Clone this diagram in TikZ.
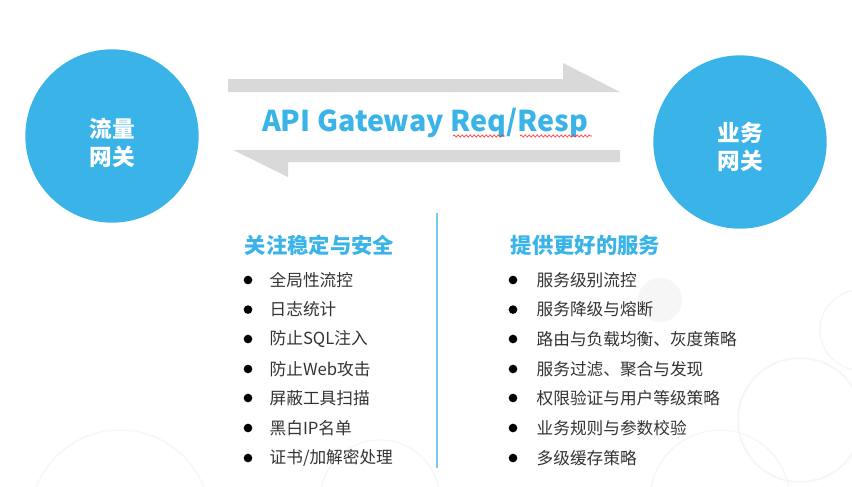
\documentclass[tikz,border=0pt]{standalone}
\usepackage{fontspec}
\setmainfont{Noto Sans CJK SC}
\usetikzlibrary{decorations.pathmorphing}
\definecolor{gwblue}{HTML}{3AB4E8}
\definecolor{arrowgray}{HTML}{D9D9D9}
\definecolor{itemtext}{HTML}{333333}
\definecolor{ruleblue}{HTML}{7CC8EE}
\definecolor{ringgray}{HTML}{F6F6F6}

\begin{document}
\begin{tikzpicture}[x=0.75pt,y=-0.75pt,
  gateway/.style={circle,fill=gwblue,minimum size=130pt,inner sep=0pt},
  gwtext/.style={text=white,align=center,font=\bfseries\fontsize{17}{21}\selectfont},
  heading/.style={anchor=west,text=gwblue,font=\bfseries\fontsize{16}{19}\selectfont},
  item/.style={anchor=west,text=itemtext,font=\fontsize{12.5}{15}\selectfont},
  dot/.style={circle,fill=black,inner sep=0pt,minimum size=6.5pt},
  spell/.style={red!80,line width=0.5pt,decorate,
    decoration={snake,segment length=3pt,amplitude=0.8pt}}]
\useasboundingbox (0,0) rectangle (852,486);
\fill[white] (0,0) rectangle (852,486);

% faint rings in the background
\draw[ringgray,line width=1.5pt] (800,420) circle (62);
\draw[ringgray,line width=1pt] (720,500) circle (70);
\draw[ringgray,line width=1pt] (860,330) circle (40);
\fill[ringgray] (660,300) circle (22);
\draw[ringgray,line width=1pt] (380,500) circle (60);
\draw[ringgray,line width=1pt] (120,520) circle (90);

% the two gateways
\node[gateway] (traffic) at (112,136) {};
\node[gwtext] (trafficlbl) at (112,143) {流量\\网关};
\node[gateway] (business) at (740,142) {};
\node[gwtext] (businesslbl) at (740,147) {业务\\网关};

% request / response arrows
\fill[arrowgray] (228,79) -- (563,79) -- (563,63) -- (620,92) -- (228,92) -- cycle;
\fill[arrowgray] (233,150) -- (620,150) -- (620,162) -- (288,162) -- (288,177) -- cycle;

\node[text=gwblue,font=\bfseries\fontsize{21.5}{25}\selectfont] (title) at (425,123) {API Gateway Req/Resp};
\draw[spell] (453,136) -- (505,136);
\draw[spell] (520,136) -- (592,136);

% divider
\draw[ruleblue,line width=0.8pt] (437,213) -- (437,468);

% left column
\node[heading] (safety) at (240,245) {关注稳定与安全};
\node[dot] (ld1) at (248,280) {};
\node[item] (l1) at (265,280) {全局性流控};
\node[dot] (ld2) at (248,309.6) {};
\node[item] (l2) at (265,309.6) {日志统计};
\node[dot] (ld3) at (248,339) {};
\node[item] (l3) at (265,339) {防止SQL注入};
\node[dot] (ld4) at (248,369) {};
\node[item] (l4) at (265,369) {防止Web攻击};
\node[dot] (ld5) at (248,398) {};
\node[item] (l5) at (265,398) {屏蔽工具扫描};
\node[dot] (ld6) at (248,428) {};
\node[item] (l6) at (265,428) {黑白IP名单};
\node[dot] (ld7) at (248,458) {};
\node[item] (l7) at (265,458) {证书/加解密处理};

% right column
\node[heading] (service) at (506,245) {提供更好的服务};
\node[dot] (rd1) at (513,280) {};
\node[item] (r1) at (532,280) {服务级别流控};
\node[dot] (rd2) at (513,309.6) {};
\node[item] (r2) at (532,309.6) {服务降级与熔断};
\node[dot] (rd3) at (513,339) {};
\node[item] (r3) at (532,339) {路由与负载均衡、灰度策略};
\node[dot] (rd4) at (513,369) {};
\node[item] (r4) at (532,369) {服务过滤、聚合与发现};
\node[dot] (rd5) at (513,398) {};
\node[item] (r5) at (532,398) {权限验证与用户等级策略};
\node[dot] (rd6) at (513,428) {};
\node[item] (r6) at (532,428) {业务规则与参数校验};
\node[dot] (rd7) at (513,458) {};
\node[item] (r7) at (532,458) {多级缓存策略};
\end{tikzpicture}
\end{document}
